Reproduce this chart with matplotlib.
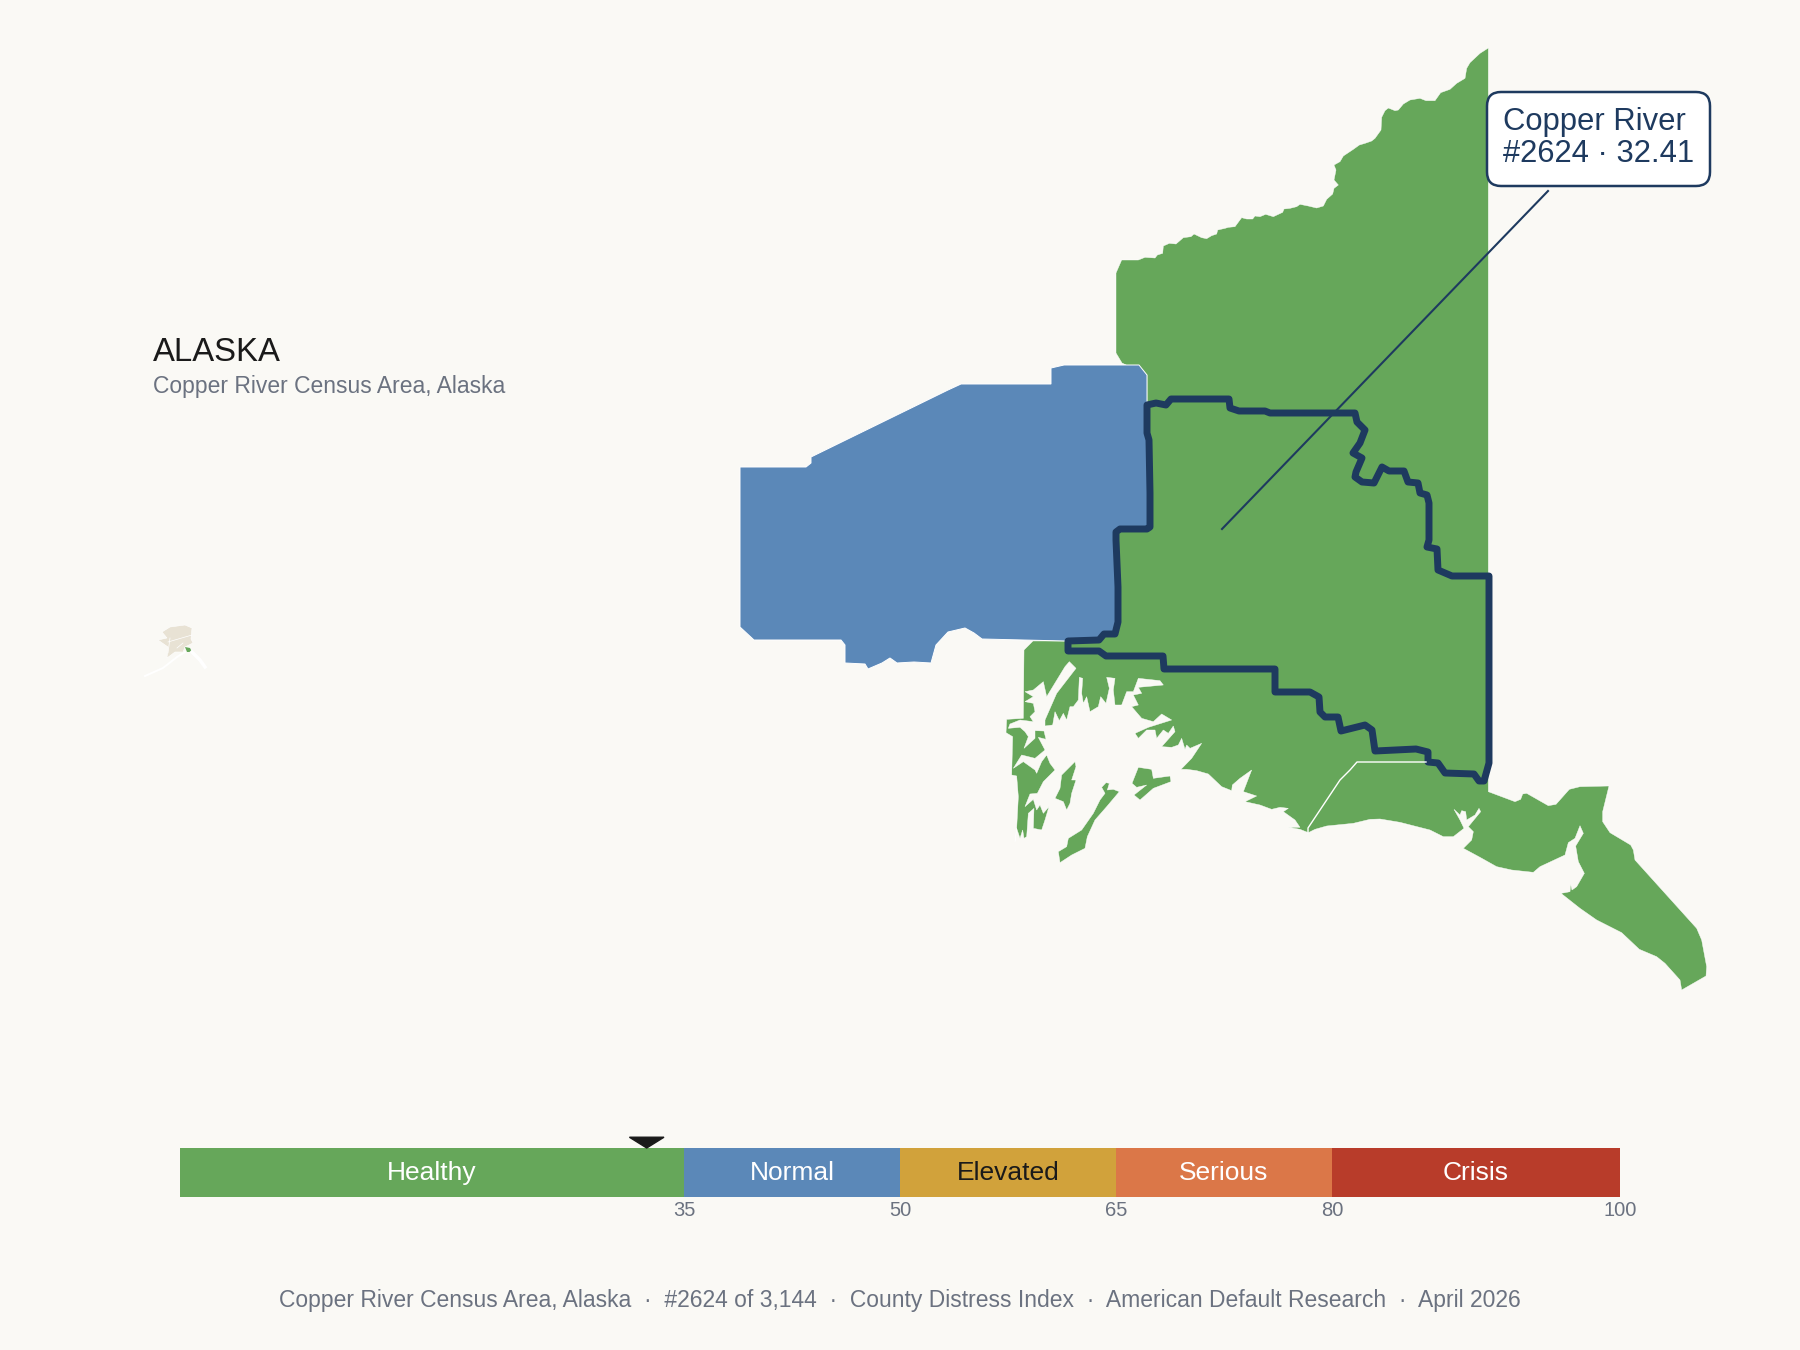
import numpy as np
import matplotlib
matplotlib.use('Agg')
import matplotlib.pyplot as plt
from matplotlib.patches import FancyBboxPatch, Polygon

plt.rcParams['font.family'] = ['Liberation Sans', 'DejaVu Sans']

bg_color = '#FAF9F5'
navy = '#1E3A5F'
gray = '#6B7280'
ink = '#1A1A1A'

state_name = 'ALASKA'
county_title = 'Copper River Census Area, Alaska'
callout_lines = 'Copper River\n#2624 · 32.41'
footer = 'Copper River Census Area, Alaska  ·  #2624 of 3,144  ·  County Distress Index  ·  American Default Research  ·  April 2026'

# distress scale
band_edges = [0, 35, 50, 65, 80, 100]
band_names = ['Healthy', 'Normal', 'Elevated', 'Serious', 'Crisis']
band_colors = ['#66A75A', '#5B88B8', '#D1A23B', '#DB7748', '#B83C2A']
band_text = ['white', 'white', ink, 'white', 'white']
tick_values = [35, 50, 65, 80, 100]
score = 32.41

# outlines at 3x, each with the image pixel its crop starts from
north_coast_a_3x = [(35, 270), (85, 270), (105, 262), (135, 264), (142, 255), (158, 250), (160, 228), (178, 220),
                    (198, 222), (220, 203), (243, 200), (252, 192), (275, 203), (290, 206), (305, 197), (320, 192),
                    (323, 180), (345, 175), (355, 172), (375, 170), (395, 143), (410, 147), (428, 147), (435, 138),
                    (450, 140), (467, 133), (490, 140), (505, 133), (518, 127), (522, 117), (540, 115), (560, 110),
                    (570, 103), (595, 108), (620, 114), (640, 108), (650, 88), (668, 72), (672, 55), (685, 45),
                    (672, 30), (678, 0)]
north_coast_b_3x = [(42, 375), (60, 365), (70, 348), (100, 328), (118, 315), (135, 310), (155, 303), (165, 295),
                    (183, 270), (185, 232), (195, 212), (205, 204), (225, 212), (235, 210), (250, 192), (270, 180),
                    (300, 175), (318, 182), (345, 182), (362, 158), (390, 148), (410, 130), (435, 115), (440, 85),
                    (450, 68), (480, 40), (505, 24)]
southeast_coast_3x = [(25, 65), (105, 95), (122, 88), (128, 72), (140, 70), (205, 107), (228, 103), (268, 58),
                      (300, 50), (387, 48), (368, 125), (368, 155), (390, 188), (452, 225), (460, 240), (465, 270),
                      (650, 475), (665, 510), (680, 590), (678, 618), (605, 660), (600, 630), (555, 580), (530, 560),
                      (478, 538), (425, 488), (350, 450), (300, 415), (243, 370), (255, 368), (270, 365), (272, 343),
                      (276, 360), (290, 350), (313, 310), (295, 275), (287, 228), (310, 190), (300, 167), (285, 205),
                      (265, 218), (255, 255), (180, 290), (160, 307), (95, 300), (50, 290), (0, 262)]
gulf_coast_3x = [(670, 235), (695, 210), (700, 185), (685, 170), (722, 125), (717, 115), (705, 135), (680, 150),
                 (677, 125), (665, 122), (660, 135), (642, 118), (660, 150), (672, 175), (640, 200), (610, 200),
                 (570, 180), (480, 157), (420, 147), (390, 148), (340, 160), (260, 168), (225, 178), (205, 188),
                 (180, 178), (145, 172), (180, 172), (165, 150), (130, 125), (145, 115), (120, 112), (95, 118),
                 (60, 105), (15, 95), (50, 78), (10, 65)]
# Prince William Sound shore
sound_shore_3x = [(755, 360), (720, 385), (697, 405), (695, 422),
                  (665, 410), (625, 372), (590, 362), (560, 358), (543, 358), (575, 325), (605, 280), (570, 295),
                  (560, 285), (555, 298), (545, 265), (535, 285), (515, 292), (485, 290), (525, 245), (520, 228),
                  (505, 250), (490, 240), (470, 265), (465, 240), (440, 240), (415, 265), (405, 250), (445, 232),
                  (515, 210), (485, 192), (460, 215), (425, 205), (395, 170), (415, 165), (400, 135), (425, 130),
                  (415, 112), (490, 105), (480, 92), (415, 85), (400, 125), (380, 125), (365, 165), (345, 165),
                  (340, 120), (345, 85), (320, 82), (328, 115), (318, 160), (302, 140), (295, 170), (270, 185),
                  (260, 140), (250, 160), (245, 130), (248, 85), (238, 82), (235, 150), (220, 170), (210, 170),
                  (200, 210), (190, 190), (178, 212), (165, 185), (158, 225), (135, 228), (135, 210), (170, 130),
                  (228, 55), (208, 35), (195, 50), (140, 140), (130, 95), (100, 120), (75, 125), (100, 140),
                  (75, 155), (100, 160), (105, 185), (90, 200), (100, 215), (60, 210), (30, 222), (25, 235),
                  (60, 232), (75, 245), (85, 260), (72, 295), (105, 265), (105, 242), (132, 243), (138, 268),
                  (115, 262), (135, 300), (105, 325), (65, 315), (40, 355), (70, 335), (105, 360), (110, 370),
                  (125, 335), (140, 315), (150, 340), (165, 360), (130, 395), (112, 430), (90, 432), (75, 470),
                  (100, 448), (110, 480), (120, 465), (130, 490), (147, 470), (135, 510), (125, 540), (100, 535),
                  (102, 475), (85, 490), (80, 560), (72, 565), (68, 540), (60, 565), (50, 535), (45, 575),
                  (50, 535), (55, 440), (50, 378), (35, 375), (38, 260), (18, 248), (20, 208), (70, 205), (72, 0)]
knight_island_3x = [(225, 335), (228, 350), (215, 390), (228, 390), (215, 430), (210, 460), (200, 480), (190, 455),
                    (165, 445), (180, 415), (185, 375), (205, 355)]
montague_island_3x = [(318, 398), (328, 400), (322, 420), (340, 418), (358, 425), (320, 470), (285, 510), (262, 560),
                      (255, 595), (235, 605), (215, 615), (180, 638), (175, 605), (200, 590), (205, 565), (245, 540),
                      (280, 490), (300, 450), (315, 430), (305, 412)]
hinchinbrook_island_3x = [(415, 352), (455, 358), (460, 385), (510, 378), (513, 395), (460, 415), (420, 450),
                          (402, 435), (440, 405), (410, 412), (396, 400)]
# shared edge between the blue neighbour and Copper River, south to north, image pixels
shared_edge = [(1065, 641), (1099, 640), (1104, 634), (1115, 634), (1118, 622), (1118, 587), (1116, 540), (1116, 532),
               (1120, 529), (1147, 529), (1150, 527), (1150, 493), (1149, 440), (1147, 433), (1147, 405), (1147, 375)]
green_west_edge = [(1122, 363), (1116, 353), (1116, 273)]
blue_outline = [(1139, 365), (1064, 365), (1051, 368), (1051, 384), (961, 384), (948, 390), (811, 457), (811, 463),
                (806, 467), (740, 467), (740, 627), (754, 640), (841, 640), (845, 645), (845, 663), (865, 664),
                (868, 669), (882, 663), (890, 658), (897, 663), (914, 662), (931, 663), (936, 645), (948, 632),
                (965, 628), (974, 633), (982, 639)]
county_line = [(1308, 833), (1308, 828), (1340, 780), (1350, 770), (1357, 762), (1426, 762)]
copper_border = [(1147, 405), (1156, 403), (1166, 405), (1171, 399), (1229, 399), (1230, 408), (1239, 411), (1265, 411),
                 (1270, 413), (1355, 413), (1357, 422), (1365, 430), (1360, 443), (1353, 453), (1362, 458), (1356, 472),
                 (1355, 477), (1362, 482), (1374, 483), (1382, 467), (1389, 471), (1404, 471), (1408, 482), (1418, 483),
                 (1420, 493), (1427, 495), (1429, 503), (1429, 540), (1427, 547), (1437, 549), (1438, 570), (1452, 576),
                 (1489, 576), (1489, 763), (1484, 781), (1479, 781), (1474, 774), (1445, 773), (1438, 763), (1428, 762),
                 (1428, 752), (1416, 749), (1375, 751), (1372, 730), (1365, 725), (1341, 731), (1338, 717), (1325, 717),
                 (1320, 712), (1319, 697), (1310, 692), (1275, 692), (1275, 669), (1164, 669), (1163, 656), (1106, 656),
                 (1099, 651), (1068, 651), (1068, 641), (1099, 640), (1104, 634), (1115, 634), (1118, 622), (1118, 587),
                 (1116, 540), (1116, 532), (1120, 529), (1147, 529), (1150, 527), (1150, 493), (1149, 440), (1147, 433)]
callout_leader = [(1222, 529), (1548, 191)]

# small locator map
locator_state = [(162, 632), (170, 627), (185, 625), (192, 628), (191, 639), (193, 643), (185, 647), (183, 652),
                 (175, 652), (167, 658), (168, 647), (158, 640), (167, 638)]
locator_county = [(185, 647), (190, 648), (192, 652), (187, 652)]
locator_aleutians = [(145, 676), (163, 668), (177, 657), (185, 652)]
locator_panhandle = [(192, 652), (200, 660), (205, 667)]
locator_lines = [[(168, 642), (192, 635)], (( 170, 638), (168, 653)), ((177, 648), (183, 643))]


def from_3x(points, x0, y0):
    return [(x0 + x / 3, y0 + y / 3) for x, y in points]


fig = plt.figure(figsize=(18, 13.5), dpi=100, facecolor=bg_color)
ax = fig.add_axes([0, 0, 1, 1])
ax.set_xlim(0, 1800)
ax.set_ylim(1350, 0)
ax.axis('off')

green = band_colors[0]
green_outline = (from_3x(north_coast_a_3x, 1110, 170) + from_3x(north_coast_b_3x, 1320, 40)
                 + from_3x(southeast_coast_3x, 1480, 770) + from_3x(gulf_coast_3x, 1240, 770)
                 + from_3x(sound_shore_3x, 1000, 650) + [(1033, 641)] + shared_edge + green_west_edge)
ax.add_patch(Polygon(green_outline, closed=True, fc=green, ec='white', lw=0.3))
for island in [knight_island_3x, montague_island_3x, hinchinbrook_island_3x]:
    ax.add_patch(Polygon(from_3x(island, 1000, 650), closed=True, fc=green, ec='white', lw=0.3))
ax.add_patch(Polygon(blue_outline + shared_edge, closed=True, fc=band_colors[1], ec='white', lw=0.7))
ax.plot(*zip(*county_line), color='white', lw=1.0)
ax.add_patch(Polygon(copper_border, closed=True, fc='none', ec=navy, lw=5, joinstyle='round'))

ax.plot(*zip(*callout_leader), color=navy, lw=1.5)
ax.add_patch(FancyBboxPatch((1497, 102), 203, 74, boxstyle='round,pad=10,rounding_size=14',
                            fc='white', ec=navy, lw=1.8, zorder=5))
ax.text(1503, 138, callout_lines, color=navy, fontsize=22.3, ha='left', va='center', linespacing=1.1, zorder=6)

# locator
ax.add_patch(Polygon(locator_state, closed=True, fc='#E8E2D4', ec='white', lw=0.4))
ax.add_patch(Polygon(locator_county, closed=True, fc=green, ec='none'))
ax.plot(*zip(*locator_aleutians), color='white', lw=1.4)
ax.plot(*zip(*locator_panhandle), color='white', lw=2.5)
for seg in locator_lines:
    ax.plot(*zip(*seg), color='white', lw=0.5)

ax.text(153, 352.5, state_name, color=ink, fontsize=23.7, ha='left', va='center')
ax.text(153, 386, county_title, color=gray, fontsize=16.5, ha='left', va='center')
ax.text(900, 1301, footer, color=gray, fontsize=16.5, ha='center', va='center')

# scale bar
bar_ax = fig.add_axes([180 / 1800, 1 - 1197 / 1350, 1440 / 1800, 49 / 1350])
bar_ax.set_xlim(0, 100)
bar_ax.set_ylim(0, 1)
bar_ax.axis('off')
for left, right, name, col, txt in zip(band_edges[:-1], band_edges[1:], band_names, band_colors, band_text):
    bar_ax.barh(0.5, right - left, left=left, height=1, color=col)
    bar_ax.text((left + right) / 2, 0.49, name, color=txt, fontsize=19, ha='center', va='center')
for val in tick_values:
    bar_ax.text(val, -0.28, str(val), color=gray, fontsize=14.5, ha='center', va='center')
bar_ax.fill([score - 1.2, score + 1.2, score], [1.22, 1.22, 1.0], color=ink, clip_on=False)

plt.savefig('out.png', dpi=100, facecolor=bg_color)
plt.close(fig)
